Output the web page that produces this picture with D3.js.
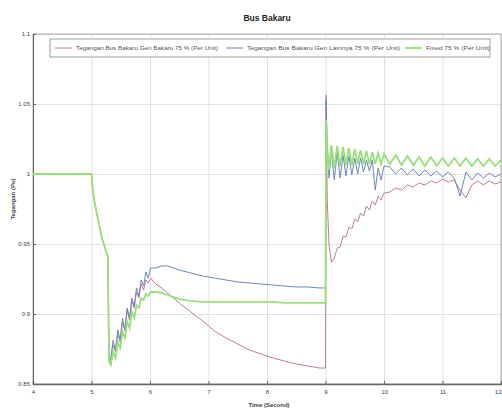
<!DOCTYPE html>
<html>
<head>
<meta charset="utf-8">
<script src="https://d3js.org/d3.v7.min.js"></script>
<style>
	html, body { margin: 0; padding: 0; background: #fff; }
	svg { display: block; font-family: 'Liberation Sans', Arial, sans-serif; }
	.grid line { stroke: #e2e2e2; stroke-width: 1; }
	.grid path { display: none; }
	.axis text { fill: #444; font-size: 6px; }
	.axis path, .axis line { stroke: #666; }
	.line { fill: none; }
</style>
</head>
<body>
<svg></svg>
<script>
'use strict'

let title = 'Bus Bakaru',
	x_label = 'Time (Second)',
	y_label = 'Tegangan (Pu)',
	x_ticks = [4, 5, 6, 7, 8, 9, 10, 11, 12],
	y_ticks = [0.85, 0.9, 0.95, 1, 1.05, 1.1],
	labels = [
		'Tegangan Bus Bakaru Gen Bakaru 75 % (Per Unit)',
		'Tegangan Bus Bakaru Gen Lainnya 75 % (Per Unit)',
		'Fixed 75 % (Per Unit)' ]

// sample times, shared by all three series
let time = [
	4.0, 4.5, 5.0,
	5.02, 5.06, 5.12, 5.18, 5.24, 5.28, 5.30,
	5.33, 5.37, 5.41, 5.45, 5.49, 5.53, 5.57, 5.61, 5.65, 5.69, 5.73, 5.77, 5.81, 5.85, 5.89, 5.93, 5.97, 6.01,
	6.1, 6.2, 6.3, 6.4, 6.5, 6.7, 6.9, 7.1, 7.3, 7.5, 7.7, 7.9, 8.1, 8.3, 8.5, 8.7, 8.9, 9.0,
	9.01, 9.03, 9.06, 9.10, 9.15, 9.20, 9.25, 9.30, 9.35, 9.40, 9.45, 9.50, 9.55, 9.60, 9.65, 9.70, 9.75, 9.80, 9.85, 9.90, 9.95, 10.0,
	10.1, 10.2, 10.3, 10.4, 10.5, 10.6, 10.7, 10.8, 10.9, 11.0, 11.1, 11.2, 11.3, 11.4, 11.5, 11.6, 11.7, 11.8, 11.9, 12.0 ]

let v_bakaru = [
	1.0, 1.0, 1.0,
	0.989, 0.978, 0.966, 0.954, 0.946, 0.941, 0.866,
	0.8657, 0.8779, 0.8729, 0.8857, 0.88, 0.8943, 0.8879, 0.9029, 0.8957, 0.91, 0.9043, 0.9157, 0.9114, 0.9214, 0.9171, 0.9243, 0.9221, 0.9257,
	0.9214, 0.9186, 0.915, 0.9114, 0.9079, 0.9014, 0.895, 0.8879, 0.8829, 0.8786, 0.8743, 0.8714, 0.8686, 0.8664, 0.8643, 0.8629, 0.8614, 0.8614,
	1.0564, 0.9814, 0.9493, 0.9371, 0.94, 0.9471, 0.9479, 0.9557, 0.955, 0.9621, 0.9607, 0.9679, 0.9657, 0.9721, 0.97, 0.9771, 0.9743, 0.9807, 0.9779, 0.9843, 0.9814, 0.9864,
	0.9871, 0.99, 0.9886, 0.9921, 0.9907, 0.9936, 0.9921, 0.995, 0.9936, 0.9964, 0.9943, 0.9957, 0.9886, 0.9829, 0.9921, 0.995, 0.9921, 0.995, 0.9929, 0.9943 ]

let v_lainnya = [
	1.0, 1.0, 1.0,
	0.989, 0.978, 0.966, 0.954, 0.946, 0.941, 0.866,
	0.8686, 0.8814, 0.8743, 0.8886, 0.8814, 0.8971, 0.8886, 0.9043, 0.8971, 0.9114, 0.9057, 0.9186, 0.9129, 0.9243, 0.92, 0.93, 0.9257, 0.9329,
	0.9329, 0.9343, 0.9343, 0.9329, 0.9314, 0.9293, 0.9271, 0.9257, 0.9243, 0.9229, 0.9221, 0.9214, 0.9207, 0.92, 0.9193, 0.9193, 0.9186, 0.9186,
	1.0529, 1.0207, 0.9971, 1.0171, 0.9957, 1.0157, 0.9971, 1.0136, 0.9986, 1.0129, 0.9993, 1.0114, 1.0, 1.0114, 1.0014, 1.01, 1.0021, 1.01, 0.9886, 1.0043, 0.9957, 1.0057,
	1.005, 1.0, 1.0043, 0.9993, 1.0036, 0.9986, 1.0029, 0.9986, 1.0021, 0.9979, 1.0014, 0.9971, 0.9843, 1.0014, 0.9957, 1.0007, 0.9971, 1.0007, 0.9979, 1.0 ]

let v_fixed = [
	1.0, 1.0, 1.0,
	0.989, 0.978, 0.966, 0.954, 0.946, 0.941, 0.866,
	0.8636, 0.8729, 0.8686, 0.88, 0.8757, 0.8871, 0.8829, 0.8943, 0.89, 0.9014, 0.8971, 0.9064, 0.9043, 0.9114, 0.91, 0.9143, 0.9129, 0.9157,
	0.9157, 0.915, 0.9136, 0.9121, 0.9107, 0.9093, 0.9086, 0.9086, 0.9086, 0.9086, 0.9086, 0.9086, 0.9086, 0.9079, 0.9079, 0.9079, 0.9079, 0.9079,
	1.0386, 1.0171, 1.0029, 1.0207, 1.0043, 1.02, 1.0057, 1.0193, 1.0064, 1.0186, 1.0064, 1.0179, 1.0071, 1.0171, 1.0071, 1.0164, 1.0071, 1.0157, 1.0071, 1.015, 1.0071, 1.0143,
	1.0071, 1.0136, 1.0064, 1.0129, 1.0064, 1.0121, 1.0057, 1.0121, 1.0057, 1.0114, 1.0057, 1.0114, 1.0057, 1.0114, 1.0057, 1.0107, 1.0057, 1.0107, 1.0057, 1.01 ]

let dss = d3.zip(labels, [v_bakaru, v_lainnya, v_fixed],
		['#c27b9c', '#6f86bd', '#98e07a'], [1, 1, 1.8])
	.map(([label, vs, c, w]) => ({
		label: label, color: c, line_w: w,
		data: d3.zip(time, vs).map(([t, v]) => ({t: t, v: v})) }))


// Chart

let W = 502, H = 411,
	margin = {top: 34, right: 1, bottom: 27, left: 33},
	width = W - margin.left - margin.right,
	height = H - margin.top - margin.bottom,
	x = d3.scaleLinear().range([0, width]).domain(d3.extent(x_ticks)),
	y = d3.scaleLinear().range([height, 0]).domain(d3.extent(y_ticks))

let svg = d3.select('body svg').attr('width', W).attr('height', H)

svg.append('text')
	.attr('x', margin.left + width / 2).attr('y', 21)
	.attr('text-anchor', 'middle').attr('font-size', '8.5px').attr('font-weight', 'bold')
	.attr('fill', '#222').text(title)

let vis = svg.append('g').attr('transform', `translate(${margin.left} ${margin.top})`)
	.call(s => {
		s.append('g').attr('class', 'x grid').call(
			d3.axisBottom(x).tickValues(x_ticks).tickSize(height).tickFormat('') )
		s.append('g').attr('class', 'y grid').call(
			d3.axisLeft(y).tickValues(y_ticks).tickSize(-width).tickFormat('') ) })
	.call(s => s.append('rect')
		.attr('width', width).attr('height', height)
		.attr('fill', 'none').attr('stroke', '#999').attr('stroke-width', 0.8))
	.call(s => s.append('g')
		.attr('class', 'x axis').attr('transform', `translate(0 ${height})`)
		.call(d3.axisBottom(x).tickValues(x_ticks).tickSize(-3).tickPadding(6).tickFormat(d3.format('d')))
		.call(s => s.select('.domain').attr('stroke-width', 1.5))
		.call(s => s.selectAll('.tick:last-of-type text').attr('text-anchor', 'end'))
		.append('text')
			.attr('x', width / 2 + 2).attr('y', 23)
			.attr('fill', '#222').attr('font-size', '7px').attr('font-weight', 'bold')
			.attr('text-anchor', 'middle').text(x_label))
	.call(s => s.append('g').attr('class', 'y axis')
		.call(d3.axisLeft(y).tickValues(y_ticks).tickSize(-3).tickPadding(3).tickFormat(d => String(d)))
		.append('text')
			.attr('transform', 'rotate(-90)').attr('x', -height / 2 + 10).attr('y', -18)
			.attr('fill', '#222').attr('font-size', '7px').attr('font-weight', 'bold')
			.attr('text-anchor', 'middle').text(y_label))
	.call(s => dss.forEach(ds => s.append('path')
		.datum(ds.data).attr('class', 'line')
		.attr('stroke', ds.color).attr('stroke-width', ds.line_w)
		.attr('d', d3.line().x(d => x(d.t)).y(d => y(d.v)))))


Legend: {
	let lg = vis.append('g').attr('transform', 'translate(17 5)'),
		entry_x = [5, 176, 355], entry_w = [142, 153, 64]
	lg.append('rect')
		.attr('width', 440).attr('height', 18)
		.attr('fill', '#fff').attr('stroke', '#888').attr('stroke-width', 0.8)
	dss.forEach((ds, n) => {
		lg.append('line')
			.attr('x1', entry_x[n]).attr('x2', entry_x[n] + 17).attr('y1', 9).attr('y2', 9)
			.attr('stroke', ds.color).attr('stroke-width', ds.line_w)
		lg.append('text')
			.attr('x', entry_x[n] + 21).attr('y', 11)
			.attr('font-size', '5.5px').attr('fill', '#555')
			.attr('textLength', entry_w[n]).attr('lengthAdjust', 'spacingAndGlyphs')
			.text(ds.label) })
} // Legend
</script>
</body>
</html>
